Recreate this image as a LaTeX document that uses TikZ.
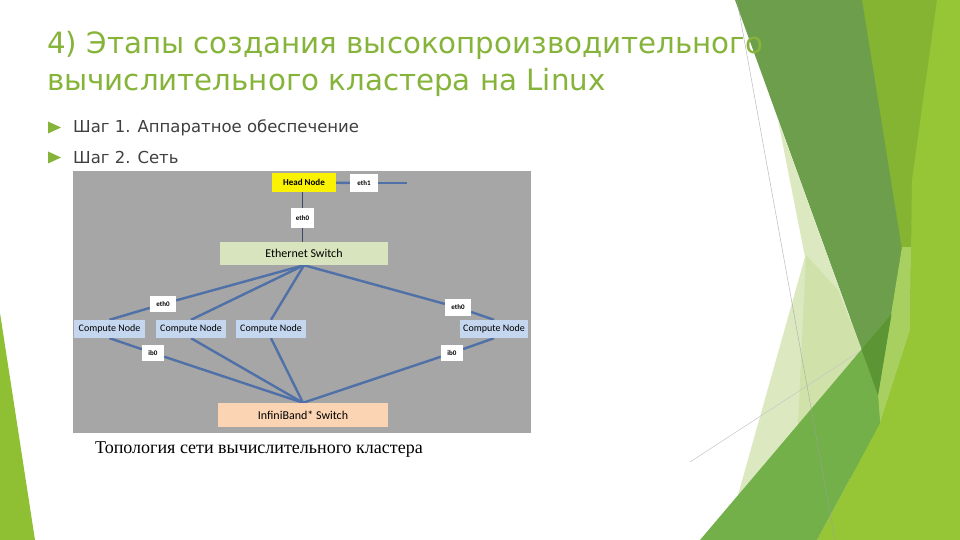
\documentclass[tikz,border=0pt]{standalone}
\usepackage{fontspec}
\setmainfont{DejaVu Sans}
\newfontfamily\capfont{Liberation Serif}
\newfontfamily\diafont{Carlito}
\usetikzlibrary{backgrounds}
\definecolor{titlegreen}{RGB}{134,180,58}
\definecolor{bodygray}{RGB}{64,64,64}
\definecolor{panelgray}{RGB}{166,166,166}
\definecolor{muted}{RGB}{108,158,76}
\definecolor{bright}{RGB}{132,180,50}
\definecolor{lightg}{RGB}{150,197,54}
\definecolor{midg}{RGB}{116,176,74}
\definecolor{darkg}{RGB}{92,150,52}
\definecolor{pale}{RGB}{220,233,192}
\definecolor{paledark}{RGB}{208,226,170}
\definecolor{stripg}{RGB}{168,208,96}
\definecolor{leftg}{RGB}{143,192,52}
\definecolor{cnblue}{RGB}{197,215,238}
\definecolor{esgreen}{RGB}{215,228,189}
\definecolor{ibpeach}{RGB}{251,212,180}
\definecolor{hnyellow}{RGB}{250,242,0}
\definecolor{linkblue}{RGB}{80,112,168}
\definecolor{stemgray}{RGB}{60,72,100}
\pgfdeclarelayer{deco}
\pgfdeclarelayer{links}
\pgfsetlayers{deco,links,main}
\begin{document}
\begin{tikzpicture}[x=1pt,y=-1pt,
  box/.style={inner sep=0pt, font=\diafont\fontsize{10}{12}\selectfont, text=black},
  cnode/.style={box, fill=cnblue, minimum width=70pt, minimum height=18pt},
  port/.style={box, fill=white, minimum height=16pt, font=\diafont\bfseries\fontsize{7}{8}\selectfont},
  link/.style={draw=linkblue, line width=2.4pt},
  stem/.style={draw=stemgray, line width=1.4pt},
  titletext/.style={anchor=base west, inner sep=0pt, text=titlegreen, font=\fontsize{29.3}{35}\selectfont},
  bodytext/.style={anchor=base west, inner sep=0pt, text=bodygray, font=\fontsize{16.5}{20}\selectfont},
  bullet/.style={fill=titlegreen}
]
\useasboundingbox (0,0) rectangle (960,540);
\begin{pgfonlayer}{deco}
\fill[white] (0,0) rectangle (960,540);
% left triangle
\fill[leftg] (0,313) -- (35,540) -- (0,540) -- cycle;
% right decoration
\fill[bright] (850,0) -- (960,0) -- (960,540) -- (850,540) -- cycle;
\fill[muted] (735,0) -- (862,0) -- (902,250) -- (878,395) -- cycle;
\fill[lightg] (937,0) -- (960,0) -- (960,540) -- (817,540) -- (880,423) -- (910,330) -- (912,180) -- cycle;
\fill[stripg] (902,247) -- (911,247) -- (910,330) -- (880,423) -- (878,395) -- cycle;
\fill[pale] (778,120) -- (805,257) -- (738,495) -- (861.5,349.4) -- cycle;
\fill[paledark] (806,255) -- (798,425) -- (861.5,349.4) -- (838,290) -- cycle;
\draw[gray!45, line width=0.5pt] (690,462) -- (862,350);
\fill[midg] (700,540) -- (891.4,314.3) -- (878,395) -- (880,423) -- (817,540) -- cycle;
\fill[darkg] (861.5,349.4) -- (891.4,314.3) -- (878,395) -- cycle;
\draw[gray!75, line width=0.5pt, opacity=0.7] (737,0) -- (835,540);
% image panel
\fill[panelgray] (73,171) rectangle (531,433);
\end{pgfonlayer}

% title and bullets
\node[titletext] (t1) at (47,53.5) {4) Этапы создания высокопроизводительного};
\node[titletext] (t2) at (47,90.5) {вычислительного кластера на Linux};
\fill[bullet] (48,121.5) -- (61,127.5) -- (48,133.5) -- cycle;
\fill[bullet] (48,151.5) -- (61,157.5) -- (48,163.5) -- cycle;
\node[bodytext] (b1) at (73,133) {Шаг 1. Аппаратное обеспечение};
\node[bodytext] (b2) at (73,164) {Шаг 2. Сеть};

% diagram nodes
\node[box, fill=hnyellow, minimum width=64pt, minimum height=19pt, font=\diafont\bfseries\fontsize{9}{10}\selectfont] (hn) at (304,182.5) {Head Node};
\node[port, minimum width=28pt, minimum height=18pt] (eth1) at (364,183) {eth1};
\coordinate (eth1end) at (407,183);
\node[port, minimum width=23pt, minimum height=20pt] (eth0h) at (302.5,218) {eth0};
\node[box, fill=esgreen, minimum width=168pt, minimum height=23pt, font=\diafont\fontsize{12}{14}\selectfont] (es) at (304,253.5) {Ethernet Switch};
\node[cnode, minimum width=71pt] (cn1) at (109.5,329) {Compute Node};
\node[cnode] (cn2) at (191,329) {Compute Node};
\node[cnode] (cn3) at (271,329) {Compute Node};
\node[cnode, minimum width=68pt] (cn4) at (494,329) {Compute Node};
\node[port, minimum width=26pt] (e0l) at (163,304) {eth0};
\node[port, minimum width=26pt, minimum height=17pt] (e0r) at (458,307.5) {eth0};
\node[port, minimum width=22pt] (ib0l) at (153,353) {ib0};
\node[port, minimum width=22pt] (ib0r) at (452,353) {ib0};
\node[box, fill=ibpeach, minimum width=170pt, minimum height=24pt, font=\diafont\fontsize{12}{14}\selectfont] (ibs) at (303,415) {InfiniBand* Switch};

\node[anchor=base west, inner sep=0pt, font=\capfont\fontsize{18}{20}\selectfont] (cap) at (95,453) {Топология сети вычислительного кластера};

% connectors
\begin{pgfonlayer}{links}
\draw[link] (hn) -- (eth1);
\draw[link] (eth1) -- (eth1end);
\draw[stem] (hn.south -| eth0h.north) -- (eth0h.north);
\draw[stem] (eth0h.south) -- (es.north -| eth0h.south);
\draw[link] (es.south) -- (e0l);
\draw[link] (e0l) -- (cn1.north);
\draw[link] (es.south) -- (cn2.north);
\draw[link] (es.south) -- (cn3.north);
\draw[link] (es.south) -- (e0r);
\draw[link] (e0r) -- (cn4.north);
\draw[link] (cn1.south) -- (ib0l);
\draw[link] (ib0l) -- (ibs.north);
\draw[link] (cn2.south) -- (ibs.north);
\draw[link] (cn3.south) -- (ibs.north);
\draw[link] (cn4.south) -- (ib0r);
\draw[link] (ib0r) -- (ibs.north);
\end{pgfonlayer}
\end{tikzpicture}
\end{document}
